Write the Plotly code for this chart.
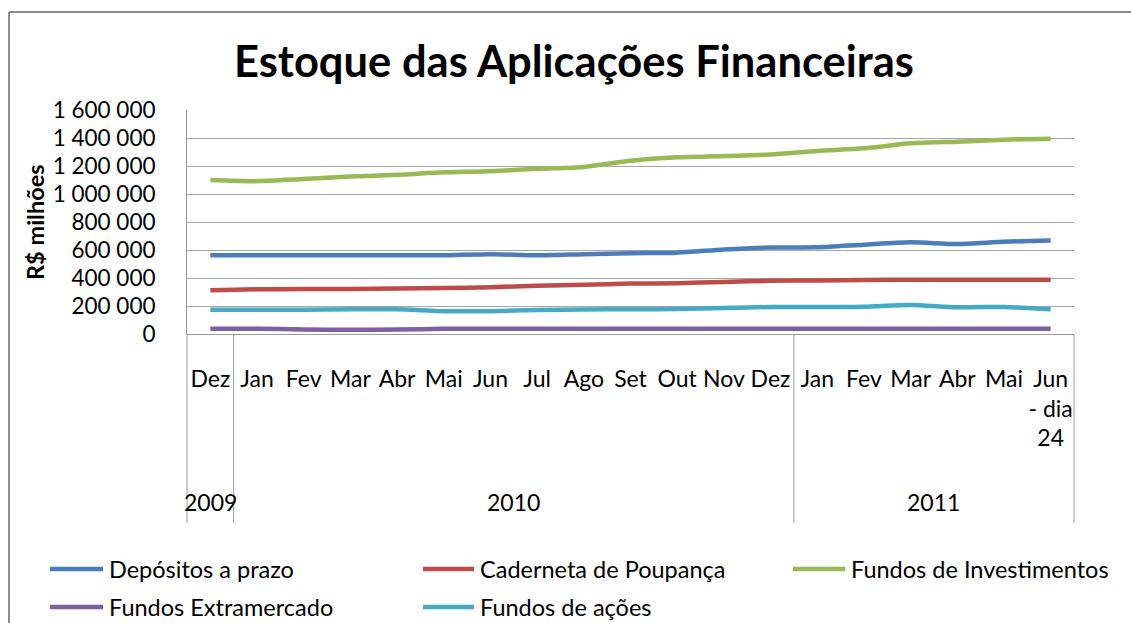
import plotly.graph_objects as go

# ---------------- data ----------------
months = ["Dez", "Jan", "Fev", "Mar", "Abr", "Mai", "Jun", "Jul", "Ago", "Set",
          "Out", "Nov", "Dez", "Jan", "Fev", "Mar", "Abr", "Mai", "Jun<br>- dia<br>24"]
years = ["2009"] + ["2010"] * 12 + ["2011"] * 6
year_labels = ["2009", "2010", "2011"]

depositos = [562000, 562000, 562000, 562000, 562000, 563000, 570000, 562000, 570000, 577000,
             581000, 604000, 618000, 619000, 638000, 655000, 643000, 659000, 667000]
poupanca = [313000, 319000, 321000, 322000, 325000, 328000, 334000, 345000, 352000, 360000,
            363000, 372000, 380000, 383000, 386000, 387000, 387000, 388000, 388000]
investimentos = [1100000, 1092000, 1108000, 1125000, 1137000, 1155000, 1163000, 1180000, 1193000, 1238000,
                 1262000, 1271000, 1283000, 1308000, 1326000, 1362000, 1374000, 1388000, 1395000]
extramercado = [38000, 38000, 32000, 31000, 32000, 37000, 38000, 38000, 38000, 38000,
                38000, 38000, 38000, 38000, 38000, 38000, 38000, 38000, 38000]
acoes = [174000, 174000, 174000, 176000, 176000, 163000, 163000, 172000, 175000, 177000,
         178000, 186000, 193000, 193000, 195000, 207000, 191000, 193000, 177000]

series_names = ["Depósitos a prazo", "Caderneta de Poupança", "Fundos de Investimentos",
                "Fundos Extramercado", "Fundos de ações"]
series_values = [depositos, poupanca, investimentos, extramercado, acoes]
series_colors = ["#4A7EBB", "#BE4B48", "#98B954", "#7D60A0", "#46AAC5"]

# ---------------- layout geometry ----------------
W, H = 1131, 623
L, R, T, B = 187, 1074, 110, 334
PW, PH = R - L, B - T
FONT = "Lato, Carlito, Calibri, sans-serif"


def fx(px):
    return (px - L) / PW


def fy(py):
    return (B - py) / PH


n = len(months)
cat_ids = [f"{m}|{y}|{i}" for i, (m, y) in enumerate(zip(months, years))]

fig = go.Figure()
for name, vals, col in zip(series_names, series_values, series_colors):
    fig.add_trace(go.Scatter(
        x=cat_ids, y=vals, name=name, mode="lines",
        line=dict(color=col, width=4.5, shape="spline", smoothing=0.7),
        showlegend=False,
    ))

shapes = []
annotations = []

# outer chart border (top and left edges visible)
shapes.append(dict(type="line", xref="paper", yref="paper",
                   x0=fx(9), x1=fx(1135), y0=fy(12), y1=fy(12),
                   line=dict(color="#8C8C8C", width=2), layer="below"))
shapes.append(dict(type="line", xref="paper", yref="paper",
                   x0=fx(9), x1=fx(9), y0=fy(12), y1=fy(630),
                   line=dict(color="#8C8C8C", width=2), layer="below"))

# group dividers below the axis (between year groups)
bounds = [0]
for i in range(1, n):
    if years[i] != years[i - 1]:
        bounds.append(i)
bounds.append(n)
for b in bounds:
    xf = b / n
    shapes.append(dict(type="line", xref="paper", yref="paper",
                       x0=xf, x1=xf, y0=0, y1=fy(523),
                       line=dict(color="#9A9A9A", width=1)))

# year labels centered in their groups
for yl in year_labels:
    idx = [i for i, y in enumerate(years) if y == yl]
    center = (idx[0] + idx[-1] + 1) / 2 / n
    annotations.append(dict(text=yl, xref="paper", yref="paper", x=center, y=fy(502),
                            showarrow=False, xanchor="center", yanchor="middle",
                            font=dict(family=FONT, size=23, color="#000000")))

# y axis title
annotations.append(dict(text="<b>R$ milhões</b>", xref="paper", yref="paper",
                        x=fx(35), y=0.5, textangle=-90, showarrow=False,
                        xanchor="center", yanchor="middle",
                        font=dict(family=FONT, size=23.5, color="#000000")))

# manual legend
leg_cols = [(50, 103, 107), (423, 474, 478), (793, 845, 849)]
leg_rows = [569, 607]
for k, (name, col) in enumerate(zip(series_names, series_colors)):
    r, c = divmod(k, 3)
    x0, x1, xt = leg_cols[c]
    yy = leg_rows[r]
    shapes.append(dict(type="line", xref="paper", yref="paper",
                       x0=fx(x0), x1=fx(x1), y0=fy(yy), y1=fy(yy),
                       line=dict(color=col, width=4.5)))
    annotations.append(dict(text=name, xref="paper", yref="paper", x=fx(xt), y=fy(yy),
                            showarrow=False, xanchor="left", yanchor="middle",
                            font=dict(family=FONT, size=23.5, color="#000000")))

fig.update_layout(
    width=W, height=H,
    margin=dict(l=L, r=W - R, t=T, b=H - B, pad=0),
    paper_bgcolor="white", plot_bgcolor="white",
    separators=", ",
    title=dict(text="<b>Estoque das Aplicações Financeiras</b>",
               x=574 / W, xanchor="center", xref="container",
               y=1 - 62 / H, yanchor="middle", yref="container",
               font=dict(family=FONT, size=43.5, color="#000000")),
    shapes=shapes, annotations=annotations,
    showlegend=False,
)

fig.update_xaxes(
    type="category", tickmode="array", tickvals=cat_ids, ticktext=months,
    range=[-0.5, n - 0.5], showgrid=False, showline=True, linecolor="#9A9A9A",
    linewidth=1, ticks="", ticklabelstandoff=24, tickangle=0,
    tickfont=dict(family=FONT, size=23, color="#000000"), zeroline=False,
)
fig.update_yaxes(
    range=[0, 1600000], dtick=200000, tick0=0, tickformat=",d",
    showgrid=True, gridcolor="#A6A6A6", gridwidth=1,
    showline=True, linecolor="#9A9A9A", linewidth=1, mirror=False,
    ticks="", ticklabelstandoff=26, zeroline=False,
    tickfont=dict(family=FONT, size=22.5, color="#000000"),
)

fig.write_html("out.html")
